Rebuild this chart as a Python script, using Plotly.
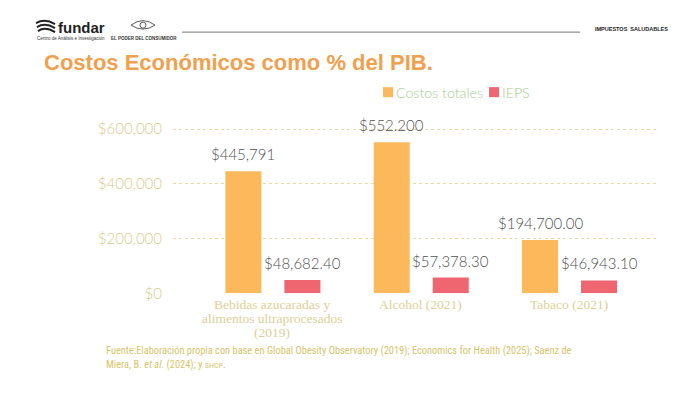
import plotly.graph_objects as go

categories = ["Bebidas azucaradas y<br>alimentos ultraprocesados<br>(2019)", "Alcohol (2021)", "Tabaco (2021)"]
series_names = ["Costos totales", "IEPS"]
costos_totales = [445791, 552200, 194700.00]
ieps = [48682.40, 57378.30, 46943.10]
costos_labels = ["$445,791", "$552.200", "$194,700.00"]
ieps_labels = ["$48,682.40", "$57,378.30", "$46,943.10"]
y_ticks = [0, 200000, 400000, 600000]
y_tick_labels = ["$0", "$200,000", "$400,000", "$600,000"]

W, H = 700, 394
ORANGE = "#FBB95C"
RED = "#EF6670"
KHAKI = "#d9cb8a"
XKHAKI = "#ddd096"
GRID = "#e6dba6"
LABEL = "#505050"

BAR_W = 0.243
OFFSETS = [-0.317, 0.081]

# vertical calibration of the capture (observed: shown_y = 0.969*y + 3.9)
SY, OY = 0.969, 3.9

def ly(y):
    return (y - OY) / SY

def px(x):
    return x / W

def py(y):
    return 1 - ly(y) / H

fig = go.Figure()
for vals, name, col, off in [(costos_totales, series_names[0], ORANGE, OFFSETS[0]),
                             (ieps, series_names[1], RED, OFFSETS[1])]:
    fig.add_trace(go.Bar(
        x=list(range(len(categories))), y=vals, name=name,
        marker=dict(color=col, line=dict(width=0)),
        width=BAR_W, offset=off,
    ))

fig.update_layout(
    width=W, height=H,
    margin=dict(l=0, r=0, t=0, b=0),
    paper_bgcolor="white", plot_bgcolor="white",
    showlegend=False,
    barmode="overlay",
    xaxis=dict(
        domain=[173 / W, 658 / W],
        range=[-0.67, 2.6],
        showticklabels=False,
        showgrid=False, zeroline=False, showline=False, ticks="",
    ),
    yaxis=dict(
        domain=[py(293), py(123.5)],
        range=[0, 620000],
        tickmode="array", tickvals=y_ticks, ticktext=y_tick_labels,
        tickfont=dict(family="Lato", size=15, color=KHAKI, weight=300),
        showgrid=True, gridcolor=GRID, griddash="dot", gridwidth=1,
        zeroline=False, showline=False, ticks="",
        ticklabelstandoff=10,
    ),
)

shapes = []
annotations = []

# Value labels above bars
for vals, labels, off in [(costos_totales, costos_labels, OFFSETS[0]), (ieps, ieps_labels, OFFSETS[1])]:
    for i, (v, t) in enumerate(zip(vals, labels)):
        annotations.append(dict(x=i + off + BAR_W / 2, y=v, xref="x", yref="y", text=t,
                                showarrow=False, xanchor="center", yanchor="middle", yshift=17,
                                font=dict(family="Lato", size=15, color=LABEL, weight=300)))

# Category labels (one annotation per line for tight line spacing)
for i, cat in enumerate(categories):
    for j, line in enumerate(cat.split("<br>")):
        annotations.append(dict(x=i, y=py(304 + 14 * j), xref="x", yref="paper", text=line,
                                showarrow=False, xanchor="center", yanchor="middle",
                                font=dict(family="Liberation Serif", size=13.5, color=XKHAKI)))

# Legend (manual)
leg_items = [(383, series_names[0], ORANGE), (489, series_names[1], RED)]
for x0, name, col in leg_items:
    shapes.append(dict(type="rect", xref="paper", yref="paper",
                       x0=px(x0), x1=px(x0 + 10), y0=py(97), y1=py(87),
                       fillcolor=col, line=dict(width=0)))
    annotations.append(dict(x=px(x0 + 11), y=py(92), xref="paper", yref="paper",
                            text=name, showarrow=False, xanchor="left", yanchor="middle",
                            font=dict(family="Lato", size=14.2, color="#a6cd8c", weight=300)))

# Header line
shapes.append(dict(type="line", xref="paper", yref="paper",
                   x0=px(182), x1=px(580), y0=py(32), y1=py(32),
                   line=dict(color="#777777", width=1)))

# fundar icon (stylised stripes)
for i, dy in enumerate([0, 4, 8]):
    shapes.append(dict(type="path", xref="paper", yref="paper",
                       path=f"M {px(36 + i)},{py(23 + dy)} Q {px(45)},{py(18 + dy)} {px(55)},{py(24 + dy)}",
                       line=dict(color="#222222", width=2)))
annotations.append(dict(x=px(56), y=py(27), xref="paper", yref="paper", text="<b>fundar</b>",
                        showarrow=False, xanchor="left", yanchor="middle",
                        font=dict(family="Liberation Sans", size=15, color="#222222")))
annotations.append(dict(x=px(35), y=py(38.5), xref="paper", yref="paper",
                        text="Centro de Análisis e Investigación",
                        showarrow=False, xanchor="left", yanchor="middle",
                        font=dict(family="Liberation Sans", size=4.5, color="#333333")))

# Eye icon
shapes.append(dict(type="path", xref="paper", yref="paper",
                   path=f"M {px(131)},{py(25)} Q {px(143)},{py(16)} {px(155)},{py(25)} Q {px(143)},{py(33)} {px(131)},{py(25)} Z",
                   line=dict(color="#333333", width=0.8)))
shapes.append(dict(type="circle", xref="paper", yref="paper",
                   x0=px(140), x1=px(146), y0=py(28), y1=py(22),
                   line=dict(color="#333333", width=0.8)))
annotations.append(dict(x=px(144), y=py(38), xref="paper", yref="paper",
                        text="<b>EL PODER DEL CONSUMIDOR</b>",
                        showarrow=False, xanchor="center", yanchor="middle",
                        font=dict(family="Liberation Sans", size=4.5, color="#333333")))

annotations.append(dict(x=px(593), y=py(29), xref="paper", yref="paper",
                        text="<b>IMPUESTOS  SALUDABLES</b>",
                        showarrow=False, xanchor="left", yanchor="middle",
                        font=dict(family="Liberation Sans", size=5.5, color="#222222")))

# Title
annotations.append(dict(x=px(42), y=py(62), xref="paper", yref="paper",
                        text="<b>Costos Económicos como % del PIB.</b>",
                        showarrow=False, xanchor="left", yanchor="middle",
                        font=dict(family="Liberation Sans", size=22, color="#F0A04E")))

# Source
annotations.append(dict(x=px(104), y=py(357), xref="paper", yref="paper",
                        text=("Fuente:Elaboración propia con base en Global Obesity Observatory (2019); Economics for Health (2025); Saenz de"
                              "<br>Miera, B. <i>et al.</i> (2024); y <span style='font-size:8px'>SHCP</span>."),
                        showarrow=False, xanchor="left", yanchor="middle", align="left",
                        font=dict(family="Roboto Condensed, Roboto", size=10.4, color="#d6c46c")))

fig.update_layout(shapes=shapes, annotations=annotations)
fig.write_html("out.html", config={"displayModeBar": False},
               post_script="document.body.style.margin='0';document.body.style.overflow='hidden';")
